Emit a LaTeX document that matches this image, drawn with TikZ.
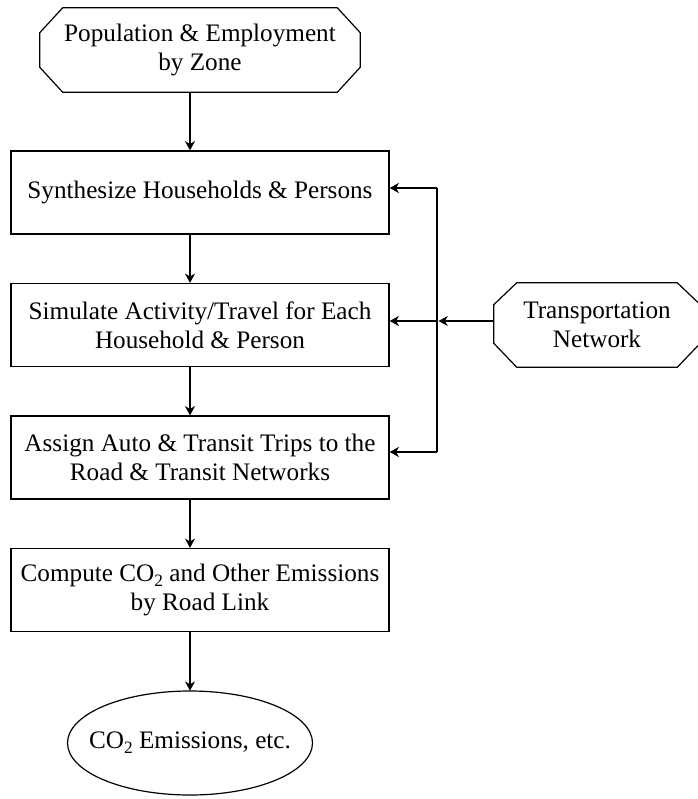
\documentclass[tikz,border=0pt]{standalone}
\usepackage{fontspec}
\setmainfont{Liberation Serif}
\usetikzlibrary{arrows.meta,calc,shapes.geometric}
\newcommand\subtwo{\raisebox{-0.45ex}{\fontsize{13pt}{13pt}\selectfont 2}}
\tikzset{
  lbl/.style={align=center, inner sep=0pt, font=\fontsize{18.9pt}{21.75pt}\selectfont},
  box/.style={lbl, draw, line width=0.9pt, minimum width=378*0.75pt, minimum height=83*0.75pt},
  conn/.style={line width=0.9pt, -{Stealth[length=7pt,width=7.5pt,inset=2.2pt]}},
  plain/.style={line width=0.9pt},
  octo/.style={line width=0.9pt, line join=miter}
}
\begin{document}
\begin{tikzpicture}[x=0.75pt,y=-0.75pt]
\useasboundingbox (0,0) rectangle (697,799);
% nodes
\node[lbl, minimum width=320*0.75pt, minimum height=84*0.75pt] (pop) at (200,50) {Population \& Employment\\by Zone};
\node[box] (syn) at (200,192.5) {Synthesize Households \& Persons};
\node[box] (sim) at (200,325) {Simulate Activity/Travel for Each\\Household \& Person};
\node[box] (asg) at (200,457.5) {Assign Auto \& Transit Trips to the\\Road \& Transit Networks};
\node[box] (cmp) at (200,590) {Compute CO\subtwo{} and Other Emissions\\by Road Link};
\node[lbl, minimum width=245*0.75pt, minimum height=104*0.75pt] (co2) at (190,743) {CO\subtwo{} Emissions, etc.};
\node[lbl, minimum width=206*0.75pt, minimum height=84*0.75pt] (tn) at (597,325) {Transportation\\Network};
% outlines
\draw[plain] (co2.center) ellipse [x radius=122.5, y radius=52];
\draw[octo] ($(pop.north west)+(23,0)$) -- ($(pop.north east)+(-23,0)$) -- ($(pop.north east)+(0,25)$) -- ($(pop.south east)+(0,-25)$) -- ($(pop.south east)+(-23,0)$) -- ($(pop.south west)+(23,0)$) -- ($(pop.south west)+(0,-25)$) -- ($(pop.north west)+(0,25)$) -- cycle;
\draw[octo] ($(tn.north west)+(23,0)$) -- ($(tn.north east)+(-23,0)$) -- ($(tn.north east)+(0,22)$) -- ($(tn.south east)+(0,-24)$) -- ($(tn.south east)+(-23,0)$) -- ($(tn.south west)+(23,0)$) -- ($(tn.south west)+(0,-24)$) -- ($(tn.north west)+(0,22)$) -- cycle;
% column coordinate
\coordinate (col) at (190,0);
\draw[conn] (pop.south -| col) -- (syn.north -| col);
\draw[conn] (syn.south -| col) -- (sim.north -| col);
\draw[conn] (sim.south -| col) -- (asg.north -| col);
\draw[conn] (asg.south -| col) -- (cmp.north -| col);
\draw[conn] (cmp.south -| col) -- (co2.north);
% feedback
\coordinate (jt) at (437,188);
\coordinate (jm) at (437,321);
\coordinate (jb) at (437,452);
\draw[conn] (jm) -- (sim.east |- jm);
\draw[conn] (tn.west |- jm) -- ($(jm)+(1.5,0)$);
\draw[plain] (jt) -- (jb);
\draw[conn] (jt) -- (syn.east |- jt);
\draw[conn] (jb) -- (asg.east |- jb);
\end{tikzpicture}
\end{document}
